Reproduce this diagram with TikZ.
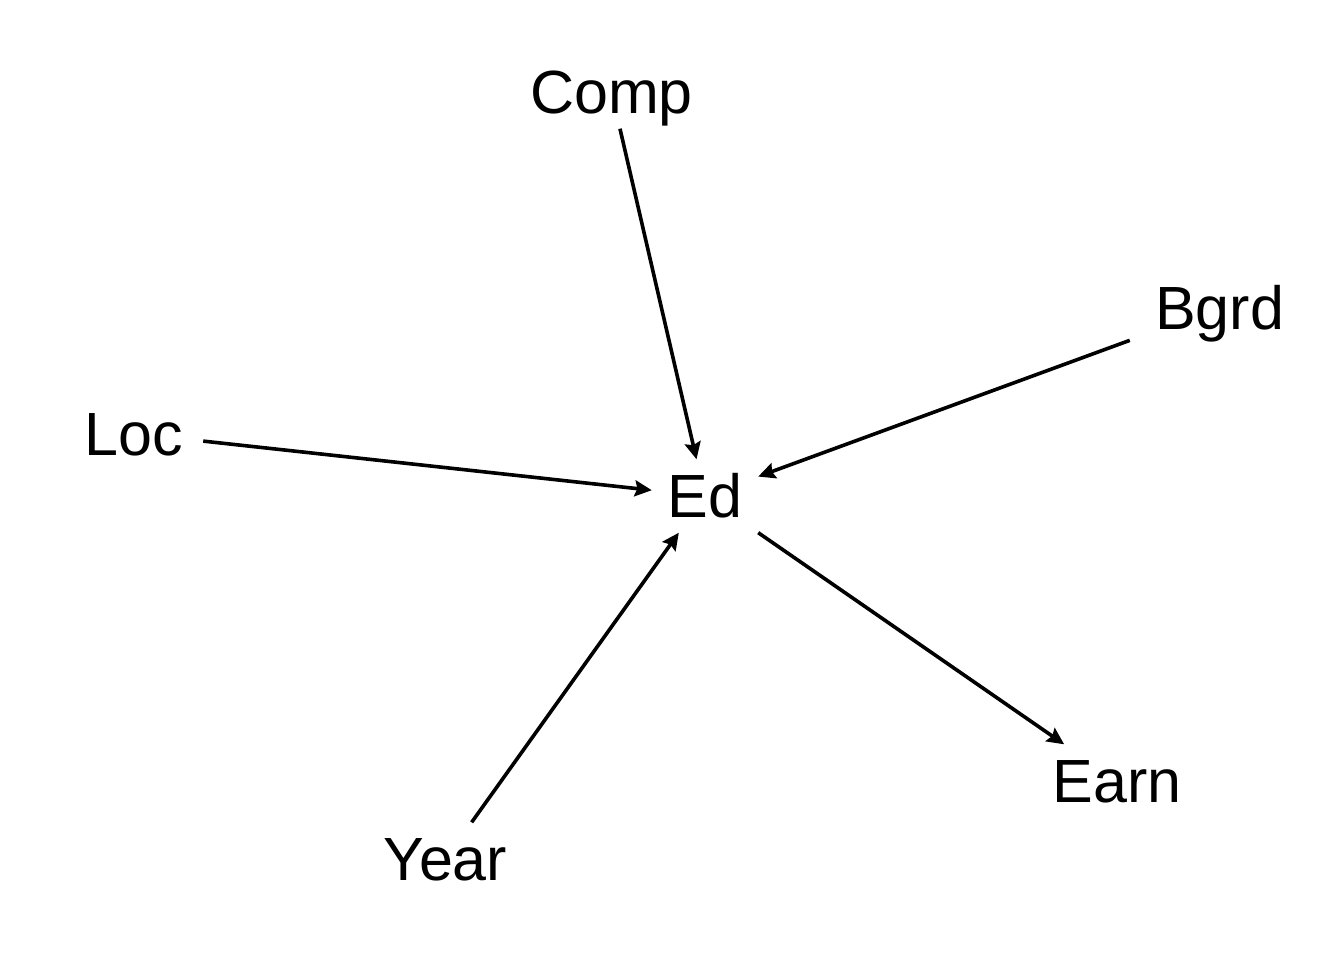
\documentclass[tikz,border=0pt]{standalone}
\usepackage{fontspec}
\setmainfont{Liberation Sans}
\usetikzlibrary{arrows.meta}
\begin{document}
\begin{tikzpicture}[x=1pt,y=-1pt,
  var/.style={rectangle,inner sep=0pt,text height=43.7pt,text depth=0pt,
    minimum height=73pt,font=\fontsize{61}{70}\selectfont},
  edge/.style={line width=3.6pt,-{Stealth[length=17pt,width=16pt,inset=2.5pt]}}]
\useasboundingbox (0,0) rectangle (1344,960);
\node[var,minimum width=228pt] (comp) at (611.5,92) {Comp};
\node[var,minimum width=179pt] (bgrd) at (1219.5,307.5) {Bgrd};
\node[var,minimum width=139pt] (loc) at (133.5,433.5) {Loc};
\node[var,minimum width=106pt] (ed) at (705,496) {Ed};
\node[var,minimum width=180pt] (earn) at (1117,781) {Earn};
\node[var,minimum width=180pt] (year) at (445.5,859) {Year};
\draw[edge] (comp) -- (ed);
\draw[edge] (bgrd) -- (ed);
\draw[edge] (loc) -- (ed);
\draw[edge] (year) -- (ed);
\draw[edge] (ed) -- (earn);
\end{tikzpicture}
\end{document}
